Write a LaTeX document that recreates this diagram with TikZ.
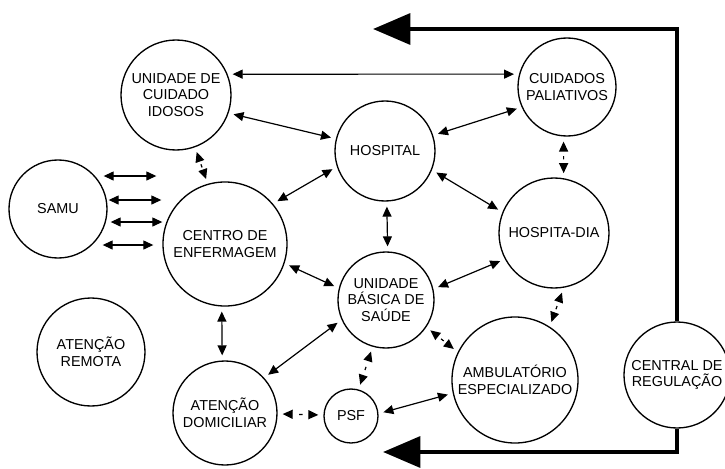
\documentclass[tikz,border=0pt]{standalone}
\usepackage{fontspec}
\setmainfont{Liberation Sans}
\usetikzlibrary{arrows.meta}
\begin{document}
\begin{tikzpicture}[x=0.75pt,y=-0.75pt,
  circ/.style={circle, draw, line width=1pt, minimum size=#1*1.5pt, inner sep=0pt, align=center, font=\fontsize{10.8pt}{12.5pt}\selectfont},
  conn/.style={line width=0.9pt, >={Triangle[length=7.5pt,width=6.75pt]}, <->},
  trim/.style={shorten <=3.75pt, shorten >=3.75pt},
  dsh/.style={dash pattern=on 0pt off #1 on 2.5pt off 100pt},
  big/.style={line width=3.3pt, -{Triangle[length=28pt,width=23pt]}}]
\useasboundingbox (0,0) rectangle (725,468);
\node[circ=55] (uci) at (176,95) {UNIDADE DE\\CUIDADO\\IDOSOS};
\node[circ=49] (pal) at (567,87) {CUIDADOS\\PALIATIVOS};
\node[circ=50] (hos) at (385,151) {HOSPITAL};
\node[circ=49] (samu) at (58,209) {SAMU};
\node[circ=62] (cen) at (225,244) {CENTRO DE\\ENFERMAGEM};
\node[circ=55] (dia) at (554,233) {HOSPITA-DIA};
\node[circ=48] (ubs) at (386,300) {UNIDADE\\BÁSICA DE\\SAÚDE};
\node[circ=54] (rem) at (91,352) {ATENÇÃO\\REMOTA};
\node[circ=63] (amb) at (515,380) {AMBULATÓRIO\\ESPECIALIZADO};
\node[circ=53] (reg) at (677,375) {CENTRAL DE\\REGULAÇÃO};
\node[circ=52] (dom) at (225,413) {ATENÇÃO\\DOMICILIAR};
\node[circ=27] (psf) at (351,416) {PSF};
% thick feedback arrows
\coordinate (t1) at (373,29);
\coordinate (t2) at (383,452);
\draw[big] (reg.north) |- (t1);
\draw[big] (reg.south) |- (t2);
% connectors
\draw[conn,trim] (uci.22) -- (pal.165);
\draw[conn,trim] (uci.-19) -- (hos.166);
\draw[conn,trim,dsh=2.45pt] (uci.-70) -- (cen.106);
\draw[conn,trim] (hos.18) -- (pal.204);
\draw[conn,trim] (hos.-22) -- (dia.158);
\draw[conn,trim,dsh=3.6pt] (pal.266) -- (dia.80);
\draw[conn,trim] (ubs.13) -- (dia.208);
\draw[conn,trim,dsh=3.5pt] (dia.280) -- (amb.57);
\draw[conn,trim] (cen.40) -- (hos.198);
\draw[conn,trim] (hos.-88) -- (ubs.88);
\draw[conn,trim] (cen.-18) -- (ubs.166);
\draw[conn] ([shift={(-4,-33)}]samu.east) -- ([shift={(-6,-68)}]cen.west);
\draw[conn] ([shift={(1,-9)}]samu.east) -- ([shift={(-1,-44)}]cen.west);
\draw[conn] ([shift={(3,13)}]samu.east) -- ([shift={(0,-22)}]cen.west);
\draw[conn] ([shift={(-5,36)}]samu.east) -- ([shift={(-9,1)}]cen.west);
\draw[conn,trim] (cen.-93) -- (dom.93);
\draw[conn,trim] (ubs.204) -- (dom.42);
\draw[conn,trim,dsh=4.85pt] (ubs.254) -- (psf.74);
\draw[conn,trim,dsh=3.05pt] (ubs.-34) -- (amb.154);
\draw[conn,trim,dsh=5.15pt] (dom.-1) -- (psf.178);
\draw[conn,trim] (psf.5) -- (amb.192);
\end{tikzpicture}
\end{document}
